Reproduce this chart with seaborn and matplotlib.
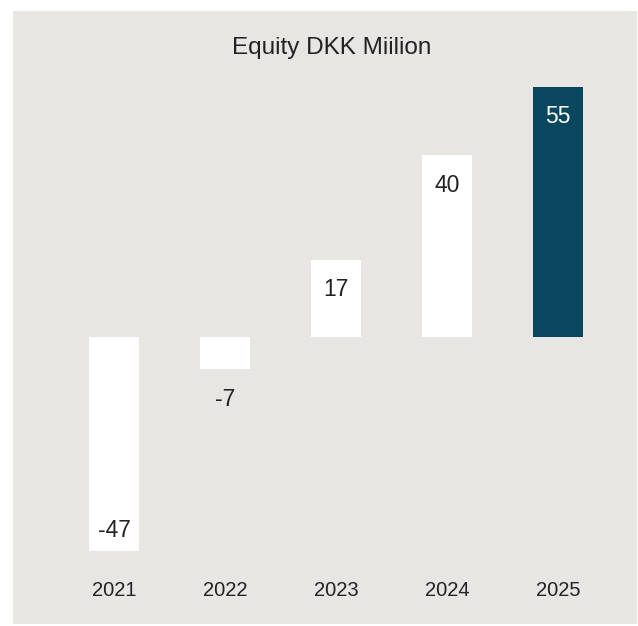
import matplotlib
matplotlib.use("Agg")
import matplotlib.pyplot as plt
from matplotlib.patches import Rectangle
import seaborn as sns
import pandas as pd

# Equity by year, DKK million
years = ["2021", "2022", "2023", "2024", "2025"]
equity = [-47, -7, 17, 40, 55]
bar_colors = ["#FFFFFF", "#FFFFFF", "#FFFFFF", "#FFFFFF", "#08475E"]
label_colors = ["#222222", "#222222", "#222222", "#222222", "#FFFFFF"]
title = "Equity DKK Miilion"

PANEL = "#E8E6E3"
TEXT = "#222222"

sns.set_theme(style="white")
plt.rcParams["font.family"] = ["Liberation Sans", "DejaVu Sans"]

W, H = 638, 626
fig = plt.figure(figsize=(W / 100, H / 100), dpi=100, facecolor="white")

# grey panel behind the chart
fig.patches.append(Rectangle((13 / W, 1 - 624 / H), (637 - 13) / W, (624 - 11) / H,
                             transform=fig.transFigure, facecolor=PANEL,
                             edgecolor="none", zorder=-10))

# axes placement in pixels
px_per_unit = 4.55
zero_px = 337
top_px, bot_px = 70, 562
left_px, right_px = 58.5, 613.5
ax = fig.add_axes([left_px / W, 1 - bot_px / H, (right_px - left_px) / W, (bot_px - top_px) / H])
ax.set_zorder(1)
ax.set_facecolor(PANEL)

df = pd.DataFrame({"year": years, "equity": equity})
sns.barplot(data=df, x="year", y="equity", hue="year", palette=bar_colors,
            width=0.45, saturation=1, legend=False, ax=ax, linewidth=0)

ax.set_ylim(-(bot_px - zero_px) / px_per_unit, (zero_px - top_px) / px_per_unit)
ax.set_xlim(-0.5, len(years) - 0.5)
ax.set_xlabel("")
ax.set_ylabel("")
ax.set_yticks([])
for s in ax.spines.values():
    s.set_visible(False)
ax.tick_params(axis="x", length=0, pad=13.5, labelsize=14.5, labelcolor=TEXT)

# value labels (offsets in pixels from the bar end)
for i, (v, c) in enumerate(zip(equity, label_colors)):
    if v > 0:
        off = -30
    elif v > -20:
        off = -31
    else:
        off = 20
    ax.annotate(f"{v}", xy=(i, v), xytext=(0, off * 0.72), textcoords="offset points",
                ha="center", va="center", fontsize=16.5, color=c)

fig.text(332 / W, 1 - 48 / H, title, ha="center", va="center", fontsize=17.5, color=TEXT)

fig.savefig("out.png", dpi=100, facecolor="white")
